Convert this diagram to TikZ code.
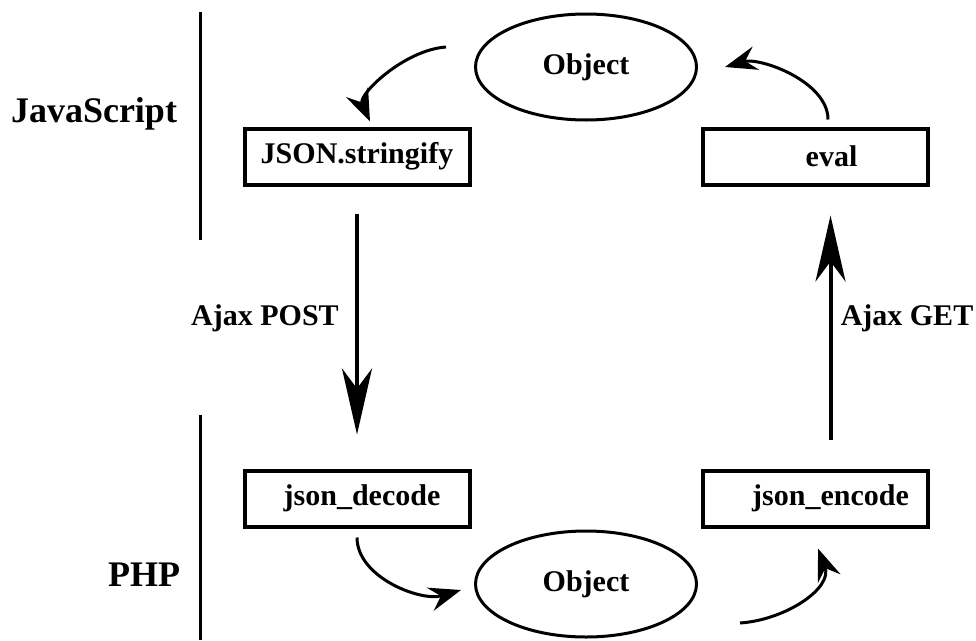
\documentclass[tikz,border=0pt]{standalone}
\usepackage{fontspec}
\setmainfont{Liberation Serif}
\usetikzlibrary{shapes.geometric,arrows.meta}
\tikzstyle{fnbox}=[draw,rectangle,line width=4pt,minimum width=225pt,minimum height=56pt,inner sep=0pt,font=\fontsize{30}{36}\selectfont\bfseries]
\tikzstyle{objnode}=[draw,ellipse,line width=3pt,minimum width=221pt,minimum height=106pt,inner sep=0pt,font=\fontsize{30}{36}\selectfont\bfseries]
\tikzstyle{sidelabel}=[font=\fontsize{36}{42}\selectfont\bfseries]
\tikzstyle{ajaxlabel}=[font=\fontsize{30}{36}\selectfont\bfseries]
\tikzstyle{bigarrow}=[line width=4pt,-{Stealth[length=66pt,width=30pt,inset=20pt]}]
\tikzstyle{bendarrow}=[line width=3pt,-{Stealth[length=32pt,width=24pt,inset=11pt]}]

\begin{document}
\begin{tikzpicture}[x=1pt,y=-1pt]
    \useasboundingbox (0,0) rectangle (976,640);
    \node[sidelabel] (js) at (94,114) {JavaScript};
    \node[sidelabel] (php) at (144,575) {PHP};
    \draw[line width=3pt] (200,12) -- (200,240);
    \draw[line width=3pt] (200,415) -- (200,640);
    \node[objnode] (objtop) at (586,67) {Object};
    \node[objnode] (objbot) at (586,584) {Object};
    \node[fnbox] (stringify) at (357,156.5) {JSON.stringify};
    \node[fnbox] (eval) at (815.5,156.5) {\hspace*{32pt}eval};
    \node[fnbox] (decode) at (357,498.5) {\hspace*{10pt}json\_decode};
    \node[fnbox] (encode) at (815.5,498.5) {\hspace*{30pt}json\_encode};
    \node[ajaxlabel] (post) at (265,318) {Ajax POST};
    \node[ajaxlabel] (get) at (907,318) {Ajax GET};
    % straight transfers
    \draw[bigarrow,shorten <=27pt,shorten >=34pt] (stringify.south) -- (decode.north);
    \draw[bigarrow,shorten <=29pt,shorten >=29pt] ([xshift=15pt]encode.north) -- ([xshift=15pt]eval.south);
    % bent arrows round the objects
    \draw[bendarrow] ([shift={(-28,-20)}]objtop.west) .. controls +(-42,3) and +(-12,-27) .. ([shift={(13,-5)}]stringify.north);
    \draw[bendarrow] ([shift={(12.5,-7)}]eval.north) .. controls +(0,-38) and +(35,-10) .. ([shift={(27,0)}]objtop.east);
    \draw[bendarrow] ([shift={(0,9)}]decode.south) .. controls +(0,40) and +(-40,12) .. ([shift={(-13,6)}]objbot.west);
    \draw[bendarrow] ([shift={(42,39)}]objbot.east) .. controls +(45,-3) and +(15,40) .. ([shift={(2.5,20)}]encode.south);
\end{tikzpicture}
\end{document}
